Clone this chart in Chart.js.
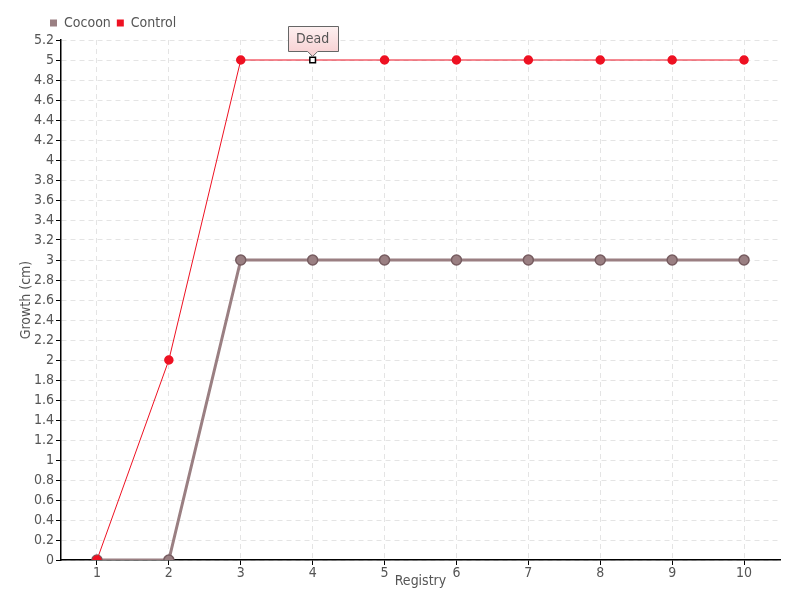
<!DOCTYPE html>
<html>
<head>
<meta charset="utf-8">
<script src="https://cdn.jsdelivr.net/npm/chart.js@4"></script>
<style>
  html, body { margin: 0; padding: 0; background: #fff; }
  #wrap { width: 800px; height: 600px; }
</style>
</head>
<body>
<div id="wrap"><canvas id="growthChart" width="800" height="600"></canvas></div>
<script>
// data
const registry = ['1', '2', '3', '4', '5', '6', '7', '8', '9', '10'];
const cocoonGrowth = [0, 0, 3, 3, 3, 3, 3, 3, 3, 3];
const controlGrowth = [0, 2, 5, 5, 5, 5, 5, 5, 5, 5];
const deadIndex = 3;       // control point flagged "Dead"
const deadLabel = 'Dead';

const FONT = '"Liberation Sans Narrow", "DejaVu Sans Condensed", sans-serif';
const TEXT = '#555';

// "Dead" callout box above the flagged point
const deadCallout = {
    id: 'deadCallout',
    afterDatasetsDraw(chart) {
        const pt = chart.getDatasetMeta(1).data[deadIndex];
        if (!pt) return;
        const ctx = chart.ctx;
        const w = 50, h = 25;
        const x = Math.round(pt.x - w / 2) + 0.5;
        const y = Math.round(pt.y - 34) + 0.5;
        ctx.save();
        const grad = ctx.createLinearGradient(0, y, 0, y + h);
        grad.addColorStop(0, '#fdf0f0');
        grad.addColorStop(1, '#f8d3d5');
        ctx.beginPath();
        ctx.moveTo(x, y);
        ctx.lineTo(x + w, y);
        ctx.lineTo(x + w, y + h);
        ctx.lineTo(pt.x + 5, y + h);
        ctx.lineTo(pt.x, y + h + 5);
        ctx.lineTo(pt.x - 5, y + h);
        ctx.lineTo(x, y + h);
        ctx.closePath();
        ctx.fillStyle = grad;
        ctx.fill();
        ctx.strokeStyle = '#666';
        ctx.lineWidth = 1;
        ctx.stroke();
        ctx.fillStyle = TEXT;
        ctx.font = '14px ' + FONT;
        ctx.textAlign = 'center';
        ctx.textBaseline = 'middle';
        ctx.fillText(deadLabel, pt.x, y + h / 2);
        ctx.restore();
    }
};

// legend starts at the left of the axis area, not the canvas edge
const legendShift = {
    id: 'legendShift',
    afterLayout(chart) {
        if (chart.legend) chart.legend.left = 44;
    }
};

const controlPointStyle = controlGrowth.map((v, i) => i === deadIndex ? 'rect' : 'circle');
const controlPointBg = controlGrowth.map((v, i) => i === deadIndex ? '#ffffff' : '#ee1122');
const controlPointBorder = controlGrowth.map((v, i) => i === deadIndex ? '#000000' : '#ee1122');

const ctx = document.getElementById('growthChart').getContext('2d');
new Chart(ctx, {
    type: 'line',
    data: {
        labels: registry,
        datasets: [{
            label: 'Cocoon',
            data: cocoonGrowth,
            borderColor: '#9a7f82',
            backgroundColor: '#9a7f82',
            borderWidth: 3,
            pointRadius: 5,
            pointBackgroundColor: '#9a7f82',
            pointBorderColor: '#765c60',
            pointBorderWidth: 1.5,
            tension: 0,
            order: 1
        }, {
            label: 'Control',
            data: controlGrowth,
            borderColor: '#ee1122',
            backgroundColor: '#ee1122',
            borderWidth: 1,
            pointRadius: 4,
            pointStyle: controlPointStyle,
            pointBackgroundColor: controlPointBg,
            pointBorderColor: controlPointBorder,
            pointBorderWidth: 1.5,
            tension: 0,
            order: 0
        }]
    },
    options: {
        responsive: false,
        animation: false,
        layout: { padding: { left: 0, right: 20, top: 10, bottom: 0 } },
        plugins: {
            legend: {
                position: 'top',
                align: 'start',
                labels: {
                    color: TEXT,
                    font: { family: FONT, size: 14 },
                    boxWidth: 7,
                    boxHeight: 7,
                    padding: 6,
                    generateLabels: (chart) => chart.data.datasets.map((ds, i) => ({
                        text: ds.label,
                        fillStyle: ds.backgroundColor,
                        strokeStyle: ds.backgroundColor,
                        lineWidth: 0,
                        datasetIndex: i,
                        fontColor: TEXT
                    }))
                }
            },
            tooltip: { enabled: false }
        },
        scales: {
            x: {
                offset: true,
                title: {
                    display: true,
                    text: 'Registry',
                    color: TEXT,
                    font: { family: FONT, size: 14 },
                    padding: { top: 0, bottom: 10 }
                },
                grid: {
                    offset: false,
                    color: '#e4e4e4',
                    tickColor: '#000',
                    tickLength: 5
                },
                border: { color: '#000', width: 1.5, dash: [5, 4] },
                ticks: {
                    color: TEXT,
                    font: { family: FONT, size: 14 },
                    padding: 0
                },
                afterFit: (scale) => { scale.height = 40; }
            },
            y: {
                min: 0,
                max: 5.2,
                title: {
                    display: true,
                    text: 'Growth (cm)',
                    color: TEXT,
                    font: { family: FONT, size: 14 },
                    padding: { top: 18, bottom: 0 }
                },
                grid: {
                    color: '#e4e4e4',
                    tickColor: '#000',
                    tickLength: 5
                },
                border: { color: '#000', width: 1.5, dash: [5, 4] },
                ticks: {
                    stepSize: 0.2,
                    autoSkip: false,
                    color: TEXT,
                    font: { family: FONT, size: 14 },
                    padding: 2,
                    callback: (v) => String(+v.toFixed(1))
                },
                afterFit: (scale) => { scale.width = 61; }
            }
        }
    },
    plugins: [deadCallout, legendShift]
});
</script>
</body>
</html>
